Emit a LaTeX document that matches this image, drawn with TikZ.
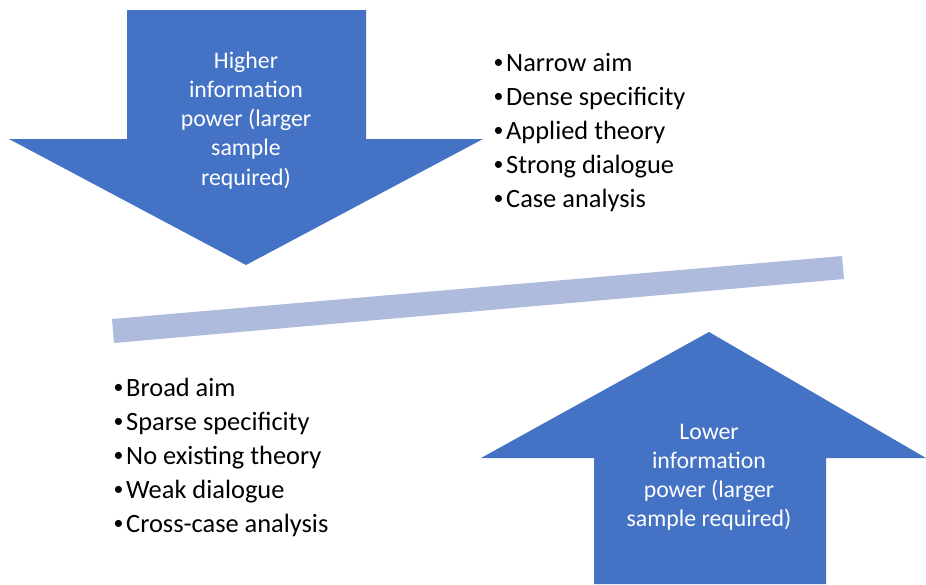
\documentclass[tikz,border=0pt]{standalone}
\usepackage{fontspec}
\usepackage{graphicx}
\setmainfont{Carlito}
\definecolor{arrowblue}{HTML}{4472C4}
\definecolor{barblue}{HTML}{AEBBDD}
% a small list bullet with a fixed advance before the item text
\newcommand{\itembullet}{\makebox[13pt][l]{\hspace{0.5pt}\raisebox{2.2pt}{\scalebox{0.75}{•}}}}
\begin{document}
\begin{tikzpicture}[x=1pt,y=-1pt,
  arrowtext/.style={text=white,font=\fontsize{23.8}{29}\selectfont,anchor=base,inner sep=0pt},
  bullettext/.style={text=black,font=\fontsize{26.4}{34}\selectfont,anchor=base west,inner sep=0pt}]
\useasboundingbox (0,0) rectangle (926,584);

% downward block arrow
\fill[arrowblue] (127,10) -- (366,10) -- (366,139) -- (483,139) -- (246,265)
  -- (9,139) -- (127,139) -- cycle;

% upward block arrow
\fill[arrowblue] (709,332) -- (926,458) -- (826,458) -- (826,584) -- (594,584)
  -- (594,458) -- (481,458) -- cycle;

% tilted balance bar
\fill[barblue] (112,319) -- (842,256) -- (844,279) -- (114,343) -- cycle;

% text in the downward arrow
\foreach \t [count=\i] in {Higher,information,power (larger,sample,required)}
  \node[arrowtext] (hi\i) at (246,{68+29.3*(\i-1)}) {\t};

% text in the upward arrow
\foreach \t [count=\i] in {Lower,information,power (larger,sample required)}
  \node[arrowtext] (lo\i) at (709,{439+29.3*(\i-1)}) {\t};

% upper bullet list
\foreach \t [count=\i] in {Narrow aim,Dense specificity,Applied theory,Strong dialogue,Case analysis}
  \node[bullettext] (ub\i) at (493,{71+34*(\i-1)}) {\itembullet\t};

% lower bullet list
\foreach \t [count=\i] in {Broad aim,Sparse specificity,No existing theory,Weak dialogue,Cross-case analysis}
  \node[bullettext] (lb\i) at (113,{396+34*(\i-1)}) {\itembullet\t};
\end{tikzpicture}
\end{document}
